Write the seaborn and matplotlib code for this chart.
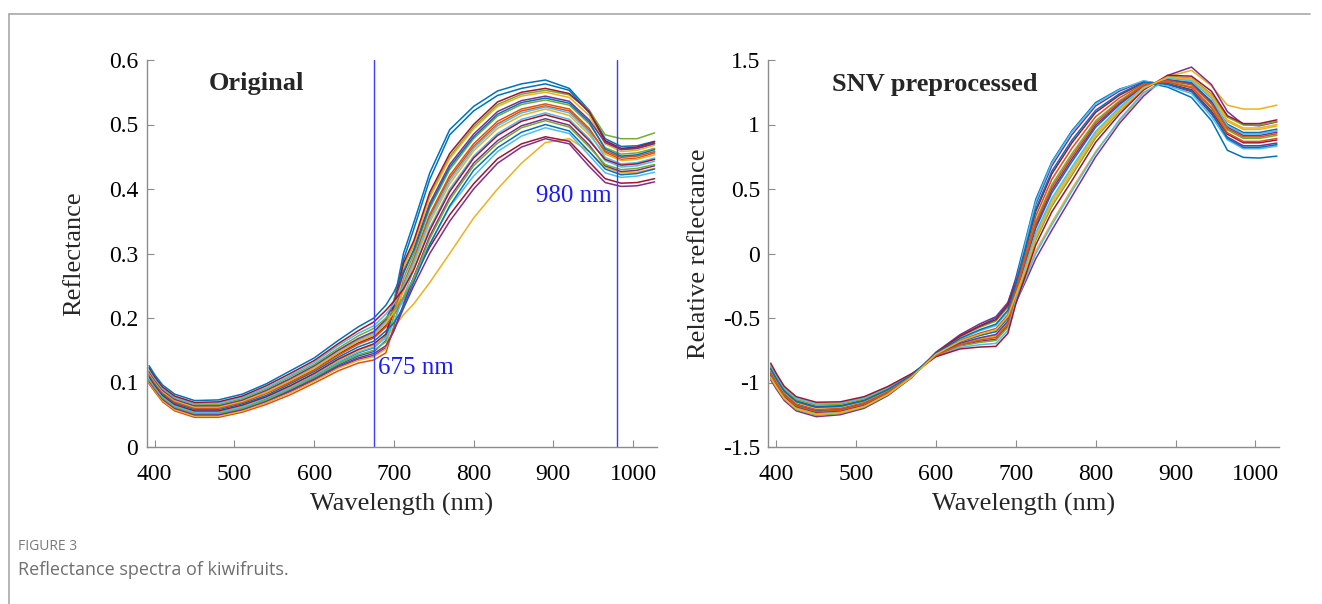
import matplotlib
matplotlib.use("Agg")
import matplotlib.pyplot as plt
from matplotlib.lines import Line2D
import seaborn as sns
import pandas as pd

# ---------------- data ----------------
wavelengths = [393, 400, 410, 425, 450, 480, 510, 540, 570, 600, 630, 655, 675, 690, 700,
               712, 725, 745, 770, 800, 830, 860, 890, 920, 945, 965, 985, 1005, 1027]

# original reflectance spectra
o01 = [0.098, 0.086, 0.070, 0.056, 0.046, 0.046, 0.054, 0.066, 0.081, 0.099, 0.118, 0.130, 0.135, 0.146, 0.187, 0.249, 0.289, 0.357, 0.417, 0.466, 0.501, 0.521, 0.529, 0.521, 0.491, 0.459, 0.449, 0.451, 0.458]
o02 = [0.100, 0.088, 0.072, 0.058, 0.048, 0.048, 0.056, 0.069, 0.084, 0.102, 0.122, 0.134, 0.140, 0.152, 0.204, 0.277, 0.313, 0.387, 0.447, 0.493, 0.528, 0.544, 0.550, 0.542, 0.514, 0.470, 0.458, 0.460, 0.468]
o03 = [0.102, 0.090, 0.074, 0.060, 0.050, 0.050, 0.058, 0.071, 0.087, 0.105, 0.125, 0.138, 0.145, 0.157, 0.181, 0.221, 0.264, 0.327, 0.387, 0.440, 0.475, 0.498, 0.509, 0.499, 0.468, 0.436, 0.427, 0.429, 0.436]
o04 = [0.104, 0.092, 0.076, 0.062, 0.052, 0.052, 0.060, 0.073, 0.090, 0.108, 0.129, 0.143, 0.150, 0.163, 0.202, 0.261, 0.299, 0.370, 0.430, 0.478, 0.513, 0.531, 0.538, 0.530, 0.501, 0.464, 0.454, 0.456, 0.463]
o05 = [0.106, 0.094, 0.078, 0.064, 0.054, 0.054, 0.062, 0.076, 0.092, 0.111, 0.132, 0.147, 0.155, 0.169, 0.193, 0.233, 0.275, 0.340, 0.400, 0.451, 0.486, 0.508, 0.518, 0.508, 0.478, 0.444, 0.434, 0.436, 0.443]
o06 = [0.109, 0.096, 0.080, 0.066, 0.056, 0.056, 0.065, 0.078, 0.095, 0.114, 0.136, 0.151, 0.160, 0.175, 0.220, 0.285, 0.320, 0.395, 0.455, 0.500, 0.535, 0.550, 0.556, 0.548, 0.520, 0.475, 0.463, 0.465, 0.473]
o07 = [0.111, 0.098, 0.082, 0.068, 0.058, 0.058, 0.067, 0.080, 0.098, 0.117, 0.139, 0.155, 0.164, 0.180, 0.192, 0.217, 0.256, 0.314, 0.374, 0.429, 0.464, 0.488, 0.500, 0.490, 0.458, 0.431, 0.422, 0.424, 0.431]
o08 = [0.113, 0.100, 0.084, 0.070, 0.060, 0.060, 0.069, 0.083, 0.100, 0.119, 0.142, 0.159, 0.169, 0.186, 0.210, 0.253, 0.292, 0.361, 0.421, 0.470, 0.505, 0.524, 0.532, 0.524, 0.494, 0.457, 0.446, 0.448, 0.456]
o09 = [0.115, 0.102, 0.086, 0.072, 0.062, 0.062, 0.071, 0.085, 0.103, 0.122, 0.146, 0.164, 0.174, 0.192, 0.209, 0.241, 0.282, 0.348, 0.408, 0.459, 0.494, 0.514, 0.524, 0.514, 0.484, 0.454, 0.444, 0.446, 0.453]
o10 = [0.117, 0.104, 0.088, 0.074, 0.064, 0.064, 0.073, 0.088, 0.106, 0.126, 0.150, 0.168, 0.179, 0.198, 0.224, 0.269, 0.306, 0.378, 0.438, 0.485, 0.520, 0.537, 0.544, 0.536, 0.507, 0.472, 0.461, 0.463, 0.471]
o11 = [0.119, 0.106, 0.090, 0.076, 0.066, 0.066, 0.075, 0.090, 0.109, 0.128, 0.153, 0.172, 0.184, 0.200, 0.212, 0.232, 0.262, 0.323, 0.383, 0.436, 0.471, 0.495, 0.506, 0.496, 0.465, 0.438, 0.430, 0.432, 0.438]
o12 = [0.121, 0.107, 0.091, 0.077, 0.067, 0.068, 0.077, 0.092, 0.111, 0.131, 0.157, 0.176, 0.188, 0.206, 0.222, 0.250, 0.287, 0.353, 0.413, 0.463, 0.498, 0.518, 0.527, 0.518, 0.488, 0.449, 0.439, 0.441, 0.448]
o13 = [0.123, 0.109, 0.093, 0.079, 0.069, 0.070, 0.079, 0.095, 0.114, 0.134, 0.160, 0.180, 0.194, 0.212, 0.226, 0.245, 0.275, 0.336, 0.396, 0.448, 0.483, 0.505, 0.515, 0.505, 0.475, 0.446, 0.437, 0.439, 0.446]
o14 = [0.126, 0.112, 0.096, 0.082, 0.072, 0.073, 0.082, 0.098, 0.118, 0.138, 0.165, 0.186, 0.200, 0.220, 0.240, 0.272, 0.305, 0.374, 0.434, 0.481, 0.516, 0.534, 0.541, 0.533, 0.504, 0.462, 0.451, 0.453, 0.461]
o15 = [0.115, 0.102, 0.086, 0.072, 0.062, 0.062, 0.071, 0.085, 0.103, 0.122, 0.146, 0.164, 0.174, 0.192, 0.228, 0.280, 0.316, 0.390, 0.450, 0.496, 0.531, 0.547, 0.553, 0.546, 0.522, 0.484, 0.478, 0.478, 0.487]
o16 = [0.105, 0.093, 0.077, 0.063, 0.053, 0.053, 0.062, 0.075, 0.092, 0.110, 0.131, 0.146, 0.154, 0.172, 0.225, 0.300, 0.348, 0.425, 0.492, 0.528, 0.552, 0.563, 0.569, 0.556, 0.522, 0.478, 0.466, 0.467, 0.474]
o17 = [0.104, 0.091, 0.075, 0.061, 0.051, 0.051, 0.060, 0.072, 0.088, 0.107, 0.127, 0.141, 0.148, 0.165, 0.215, 0.290, 0.338, 0.415, 0.484, 0.521, 0.545, 0.556, 0.563, 0.553, 0.518, 0.474, 0.462, 0.463, 0.470]
o18 = [0.108, 0.095, 0.079, 0.065, 0.055, 0.055, 0.064, 0.077, 0.094, 0.113, 0.134, 0.150, 0.158, 0.170, 0.185, 0.205, 0.222, 0.255, 0.300, 0.355, 0.400, 0.440, 0.472, 0.478, 0.458, 0.434, 0.425, 0.426, 0.432]
o19 = [0.101, 0.089, 0.073, 0.059, 0.049, 0.049, 0.057, 0.069, 0.085, 0.103, 0.123, 0.136, 0.142, 0.154, 0.180, 0.215, 0.250, 0.300, 0.350, 0.400, 0.440, 0.465, 0.478, 0.470, 0.435, 0.410, 0.404, 0.405, 0.411]
o20 = [0.113, 0.100, 0.084, 0.070, 0.060, 0.061, 0.069, 0.084, 0.101, 0.120, 0.144, 0.161, 0.171, 0.188, 0.205, 0.230, 0.262, 0.310, 0.360, 0.408, 0.447, 0.470, 0.481, 0.474, 0.442, 0.416, 0.409, 0.410, 0.416]
o21 = [0.116, 0.103, 0.087, 0.073, 0.063, 0.064, 0.072, 0.087, 0.105, 0.124, 0.149, 0.166, 0.177, 0.195, 0.208, 0.225, 0.262, 0.315, 0.372, 0.420, 0.458, 0.482, 0.495, 0.486, 0.452, 0.425, 0.418, 0.420, 0.426]

# SNV preprocessed spectra
s01 = [-0.98, -1.05, -1.14, -1.22, -1.265, -1.25, -1.20, -1.10, -0.96, -0.765, -0.63, -0.545, -0.49, -0.38, -0.205, 0.066, 0.382, 0.679, 0.919, 1.144, 1.26, 1.336, 1.309, 1.255, 1.082, 0.903, 0.835, 0.835, 0.856]
s02 = [-0.967, -1.038, -1.129, -1.209, -1.254, -1.24, -1.191, -1.093, -0.957, -0.770, -0.646, -0.572, -0.524, -0.416, -0.255, -0.032, 0.252, 0.532, 0.772, 1.028, 1.186, 1.308, 1.332, 1.293, 1.137, 0.958, 0.892, 0.892, 0.916]
s03 = [-0.954, -1.026, -1.118, -1.198, -1.243, -1.23, -1.182, -1.086, -0.954, -0.776, -0.663, -0.599, -0.559, -0.452, -0.23, 0.08, 0.40, 0.70, 0.94, 1.16, 1.27, 1.34, 1.30, 1.24, 1.06, 0.881, 0.812, 0.812, 0.832]
s04 = [-0.941, -1.014, -1.107, -1.187, -1.231, -1.22, -1.173, -1.079, -0.951, -0.769, -0.641, -0.563, -0.513, -0.404, -0.23, 0.024, 0.326, 0.616, 0.856, 1.094, 1.228, 1.324, 1.318, 1.27, 1.104, 0.925, 0.858, 0.858, 0.88]
s05 = [-0.928, -1.002, -1.096, -1.176, -1.22, -1.21, -1.164, -1.072, -0.948, -0.782, -0.685, -0.635, -0.605, -0.50, -0.305, -0.074, 0.197, 0.469, 0.709, 0.979, 1.155, 1.296, 1.35, 1.323, 1.181, 1.002, 0.938, 0.938, 0.964]
s06 = [-0.915, -0.99, -1.085, -1.165, -1.209, -1.20, -1.155, -1.065, -0.945, -0.779, -0.674, -0.617, -0.582, -0.476, -0.27, -0.004, 0.289, 0.574, 0.814, 1.061, 1.207, 1.316, 1.327, 1.285, 1.126, 0.936, 0.869, 0.869, 0.892]
s07 = [-0.902, -0.978, -1.074, -1.154, -1.198, -1.19, -1.146, -1.058, -0.942, -0.788, -0.702, -0.662, -0.64, -0.536, -0.335, -0.116, 0.141, 0.406, 0.646, 0.929, 1.123, 1.284, 1.363, 1.345, 1.214, 1.024, 0.961, 0.961, 0.988]
s08 = [-0.889, -0.966, -1.063, -1.143, -1.187, -1.18, -1.137, -1.051, -0.939, -0.786, -0.696, -0.653, -0.628, -0.524, -0.31, -0.06, 0.215, 0.49, 0.73, 0.995, 1.165, 1.30, 1.345, 1.315, 1.17, 0.98, 0.915, 0.915, 0.94]
s09 = [-0.876, -0.954, -1.052, -1.132, -1.175, -1.17, -1.128, -1.044, -0.936, -0.793, -0.718, -0.689, -0.674, -0.572, -0.36, -0.144, 0.104, 0.364, 0.604, 0.896, 1.102, 1.276, 1.372, 1.36, 1.236, 1.057, 0.996, 0.996, 1.024]
s10 = [-0.863, -0.942, -1.041, -1.121, -1.164, -1.16, -1.119, -1.037, -0.933, -0.797, -0.729, -0.707, -0.697, -0.596, -0.355, -0.102, 0.16, 0.427, 0.667, 0.946, 1.134, 1.288, 1.359, 1.338, 1.203, 0.991, 0.927, 0.927, 0.952]
s11 = [-0.85, -0.93, -1.03, -1.11, -1.153, -1.15, -1.11, -1.03, -0.93, -0.80, -0.74, -0.725, -0.72, -0.62, -0.39, -0.172, 0.067, 0.322, 0.562, 0.863, 1.081, 1.268, 1.381, 1.375, 1.258, 1.068, 1.007, 1.007, 1.036]
s12 = [-0.896, -0.972, -1.069, -1.149, -1.192, -1.185, -1.142, -1.055, -0.94, -0.774, -0.658, -0.59, -0.548, -0.44, -0.24, 0.038, 0.345, 0.637, 0.877, 1.11, 1.239, 1.328, 1.314, 1.263, 1.093, 0.892, 0.823, 0.823, 0.844]
s13 = [-0.935, -1.008, -1.102, -1.182, -1.226, -1.215, -1.169, -1.076, -0.95, -0.79, -0.707, -0.671, -0.651, -0.548, -0.315, -0.046, 0.234, 0.511, 0.751, 1.012, 1.176, 1.304, 1.34, 1.308, 1.159, 0.969, 0.904, 0.904, 0.928]
s14 = [-0.96, -1.032, -1.124, -1.204, -1.248, -1.235, -1.187, -1.09, -0.955, -0.781, -0.68, -0.626, -0.593, -0.488, -0.32, -0.13, 0.123, 0.385, 0.625, 0.913, 1.113, 1.28, 1.368, 1.353, 1.225, 1.035, 0.973, 0.973, 1.0]
s15 = [-0.89, -0.965, -1.06, -1.14, -1.185, -1.18, -1.135, -1.05, -0.94, -0.79, -0.70, -0.66, -0.635, -0.53, -0.36, -0.19, 0.02, 0.24, 0.50, 0.79, 1.03, 1.24, 1.37, 1.42, 1.30, 1.15, 1.12, 1.12, 1.15]
s16 = [-0.93, -1.005, -1.10, -1.18, -1.22, -1.21, -1.165, -1.07, -0.945, -0.79, -0.71, -0.68, -0.665, -0.56, -0.38, -0.22, -0.04, 0.18, 0.44, 0.75, 1.01, 1.22, 1.38, 1.445, 1.31, 1.10, 1.00, 0.99, 1.02]
s17 = [-0.96, -1.03, -1.125, -1.205, -1.25, -1.235, -1.19, -1.09, -0.955, -0.775, -0.64, -0.56, -0.50, -0.39, -0.19, 0.10, 0.42, 0.71, 0.95, 1.17, 1.275, 1.33, 1.29, 1.21, 1.03, 0.80, 0.745, 0.74, 0.755]
s18 = [-0.928, -1.002, -1.096, -1.176, -1.22, -1.21, -1.164, -1.072, -0.948, -0.782, -0.685, -0.635, -0.605, -0.50, -0.38, -0.20, 0.0, 0.22, 0.48, 0.78, 1.04, 1.25, 1.34, 1.33, 1.17, 0.98, 0.93, 0.93, 0.95]

original_names = ["o16", "o17", "o18", "o19", "o20", "o21", "o15",
                  "o01", "o02", "o03", "o04", "o05", "o06", "o07",
                  "o08", "o09", "o10", "o11", "o12", "o13", "o14"]
original_series = [o16, o17, o18, o19, o20, o21, o15,
                   o01, o02, o03, o04, o05, o06, o07,
                   o08, o09, o10, o11, o12, o13, o14]
snv_names = ["s15", "s16", "s17", "s18",
             "s01", "s02", "s03", "s04", "s05", "s06", "s07",
             "s08", "s09", "s10", "s11", "s12", "s13", "s14"]
snv_series = [s15, s16, s17, s18,
              s01, s02, s03, s04, s05, s06, s07,
              s08, s09, s10, s11, s12, s13, s14]

x_ticks = [400, 500, 600, 700, 800, 900, 1000]
y_ticks_orig = [0, 0.1, 0.2, 0.3, 0.4, 0.5, 0.6]
y_labels_orig = ["0", "0.1", "0.2", "0.3", "0.4", "0.5", "0.6"]
y_ticks_snv = [-1.5, -1, -0.5, 0, 0.5, 1, 1.5]
y_labels_snv = ["-1.5", "-1", "-0.5", "0", "0.5", "1", "1.5"]
marker_lines = [675, 980]

# ---------------- styling ----------------
matlab = ["#0072BD", "#D95319", "#EDB120", "#7E2F8E", "#77AC30", "#4DBEEE", "#A2142F"]
pal_orig = {"o16": "#0072BD", "o17": "#0072BD", "o18": "#EDB120", "o19": "#7E2F8E",
            "o20": "#A2142F", "o21": "#4DBEEE", "o15": "#77AC30"}
dense_o = ["o01", "o02", "o03", "o04", "o05", "o06", "o07", "o08", "o09", "o10",
           "o11", "o12", "o13", "o14"]
for i, n in enumerate(dense_o):
    pal_orig[n] = matlab[(i + 1) % 7]
pal_snv = {"s15": "#EDB120", "s16": "#7E2F8E", "s17": "#0072BD", "s18": "#4DBEEE"}
dense_s = ["s01", "s02", "s03", "s04", "s05", "s06", "s07", "s08", "s09", "s10",
           "s11", "s12", "s13", "s14"]
for i, n in enumerate(dense_s):
    pal_snv[n] = matlab[(i + 3) % 7]


def to_long(names, series):
    rows = []
    for n, vals in zip(names, series):
        for w, v in zip(wavelengths, vals):
            rows.append({"Wavelength": w, "Value": v, "Sample": n})
    return pd.DataFrame(rows)


df_o = to_long(original_names, original_series)
df_s = to_long(snv_names, snv_series)

sns.set_style("ticks")
plt.rcParams["font.family"] = ["Liberation Serif", "DejaVu Serif"]
plt.rcParams["axes.unicode_minus"] = False

W, H = 1322, 604
fig = plt.figure(figsize=(W / 100, H / 100), dpi=100)
fig.patch.set_facecolor("white")

ax1 = fig.add_axes([146.7 / W, (H - 447) / H, (657 - 146.7) / W, 387 / H])
ax2 = fig.add_axes([768.3 / W, (H - 447) / H, (1279.3 - 768.3) / W, 387 / H])

sns.lineplot(data=df_o, x="Wavelength", y="Value", hue="Sample", hue_order=original_names,
             palette=pal_orig, estimator=None, legend=False, linewidth=1.1, sort=False, ax=ax1)
sns.lineplot(data=df_s, x="Wavelength", y="Value", hue="Sample", hue_order=snv_names,
             palette=pal_snv, estimator=None, legend=False, linewidth=1.1, sort=False, ax=ax2)

spine_col = "#8c8c8c"
for ax in (ax1, ax2):
    sns.despine(ax=ax)
    for s in ("left", "bottom"):
        ax.spines[s].set_color(spine_col)
        ax.spines[s].set_linewidth(1.0)
    ax.set_xlim(390, 1030)
    ax.set_xticks(x_ticks)
    ax.set_xticklabels([str(t) for t in x_ticks])
    ax.tick_params(direction="in", length=5, width=0.8, color=spine_col,
                   labelsize=17, labelcolor="black", pad=6)
    ax.tick_params(axis="x", pad=12)
    ax.set_xlabel("Wavelength (nm)", fontsize=19, labelpad=6)
    ax.set_facecolor("none")

ax1.set_ylim(0, 0.6)
ax1.set_yticks(y_ticks_orig)
ax1.set_yticklabels(y_labels_orig)
ax1.set_ylabel("Reflectance", fontsize=19, labelpad=17)
ax2.set_ylim(-1.5, 1.5)
ax2.set_yticks(y_ticks_snv)
ax2.set_yticklabels(y_labels_snv)
ax2.set_ylabel("Relative reflectance", fontsize=19, labelpad=9)

for xv in marker_lines:
    ax1.axvline(xv, color="#3c3cff", linewidth=1.0)
ax1.text(680, 0.122, "675 nm", color="#1a1aff", fontsize=18, ha="left", va="center")
ax1.text(973, 0.389, "980 nm", color="#1a1aff", fontsize=18, ha="right", va="center")

ax1.text(528, 0.563, "Original", fontsize=19, fontweight="bold", ha="center", va="center")
ax2.text(599, 1.31, "SNV preprocessed", fontsize=19, fontweight="bold", ha="center", va="center")

# caption and frame
fig.text(18 / W, 1 - 547 / H, "FIGURE 3", fontsize=10, color="#7a7a7a",
         family=["Open Sans", "DejaVu Sans"], ha="left", va="center")
fig.text(18 / W, 1 - 570 / H, "Reflectance spectra of kiwifruits.", fontsize=13, color="#6f6f6f",
         family=["Open Sans", "DejaVu Sans"], ha="left", va="center")
fig.add_artist(Line2D([9 / W, 1310 / W], [1 - 14 / H, 1 - 14 / H], color="#a8a8a8", linewidth=1.2))
fig.add_artist(Line2D([9 / W, 9 / W], [1 - 14 / H, 0], color="#a8a8a8", linewidth=1.2))

fig.savefig("out.png", dpi=100)
